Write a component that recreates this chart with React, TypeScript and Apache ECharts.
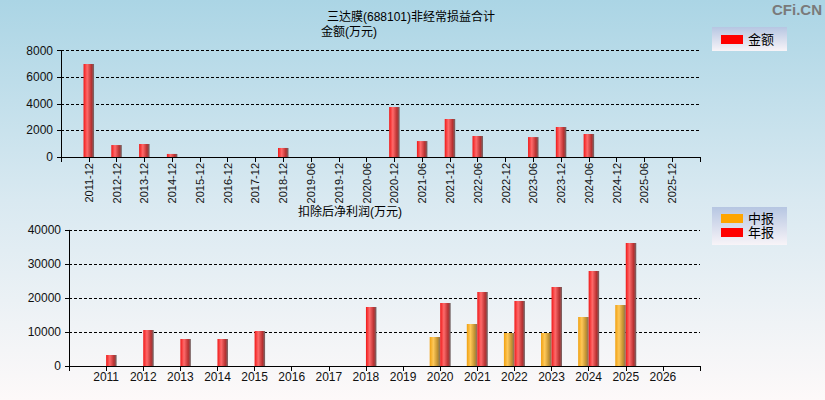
import React, { useRef, useEffect } from "react";
import * as echarts from "echarts";

const title = "三达膜(688101)非经常损益合计";
const topUnit = "金额(万元)";
const bottomUnit = "扣除后净利润(万元)";

const periods = [
  "2011-12", "2012-12", "2013-12", "2014-12", "2015-12", "2016-12", "2017-12",
  "2018-12", "2019-06", "2019-12", "2020-06", "2020-12", "2021-06", "2021-12",
  "2022-06", "2022-12", "2023-06", "2023-12", "2024-06", "2024-12", "2025-06", "2025-12",
];
const amounts = [
  7000, 900, 980, 230, null, null, null, 680, null, null, null, 3760, 1200, 2860,
  1580, null, 1500, 2260, 1730, null, null, null,
];

const years = [
  "2011", "2012", "2013", "2014", "2015", "2016", "2017", "2018",
  "2019", "2020", "2021", "2022", "2023", "2024", "2025", "2026",
];
const midYear = [
  null, null, null, null, null, null, null, null,
  null, 8550, 12380, 9730, 9730, 14450, 17980, null,
];
const annual = [
  3240, 10610, 7960, 7960, 10320, null, null, 17390,
  null, 18570, 21820, 19160, 23290, 28010, 36260, null,
];

const topTicks = [0, 2000, 4000, 6000, 8000];
const bottomTicks = [0, 10000, 20000, 30000, 40000];

const font = "Liberation Sans, Noto Sans CJK SC, sans-serif";

const pad = (arr: any[]) => ["", ...arr, ""];
const padVal = (arr: any[]) => [null, ...arr, null];

const redBar = new echarts.graphic.LinearGradient(0, 0, 1, 0, [
  { offset: 0, color: "#f01818" },
  { offset: 0.35, color: "#ff6a6a" },
  { offset: 0.75, color: "#b83030" },
  { offset: 1, color: "#706868" },
]);
const orangeBar = new echarts.graphic.LinearGradient(0, 0, 1, 0, [
  { offset: 0, color: "#f0a010" },
  { offset: 0.35, color: "#ffc858" },
  { offset: 0.75, color: "#c09030" },
  { offset: 1, color: "#807060" },
]);
const legendBg = new echarts.graphic.LinearGradient(0, 0, 0, 1, [
  { offset: 0, color: "#b6c6e2" },
  { offset: 1, color: "#f8f4f8" },
]);

const App = function () {
  const chart = useRef<HTMLDivElement>(null);
  useEffect(() => {
    document.body.style.margin = "0";
    if (!chart.current) return;
    const myChart = echarts.init(chart.current, null, { renderer: "svg" });
    const xCommon = {
      type: "category",
      boundaryGap: false,
      axisLine: { lineStyle: { color: "#000", width: 1 } },
      axisTick: { show: true, length: 5, interval: 0, lineStyle: { color: "#000" } },
      splitLine: { show: false },
    };
    const yCommon = {
      type: "value",
      min: 0,
      axisLine: { show: true, lineStyle: { color: "#000", width: 1 } },
      axisTick: { show: true, length: 4, lineStyle: { color: "#000" } },
      axisLabel: {
        color: "#111", fontSize: 12, fontFamily: font, margin: 8,
        formatter: (v: number) => String(v),
      },
      splitLine: { lineStyle: { color: "#000", type: [3, 2], width: 1 } },
    };
    const option = {
      animation: false,
      backgroundColor: new echarts.graphic.LinearGradient(0, 0, 0, 1, [
        { offset: 0, color: "#abd5e5" },
        { offset: 0.5, color: "#d9e9f1" },
        { offset: 1, color: "#fdf9f9" },
      ]),
      textStyle: { fontFamily: font },
      graphic: [
        {
          type: "text", x: 411, y: 17,
          style: { text: title, fontSize: 12, fontFamily: font, fill: "#000", align: "center", verticalAlign: "middle" },
        },
        {
          type: "text", x: 349, y: 32,
          style: { text: topUnit, fontSize: 12, fontFamily: font, fill: "#000", align: "center", verticalAlign: "middle" },
        },
        {
          type: "text", x: 350, y: 212,
          style: { text: bottomUnit, fontSize: 12, fontFamily: font, fill: "#000", align: "center", verticalAlign: "middle" },
        },
        {
          type: "text", x: 822, y: 9,
          style: { text: "CFi.CN", fontSize: 15, fontWeight: "bold", fontFamily: font, fill: "#7a7a7a", align: "right", verticalAlign: "middle" },
        },
      ],
      legend: [
        {
          left: 712, top: 27,
          itemWidth: 22, itemHeight: 9, itemGap: 0,
          padding: [6, 13, 5, 9],
          backgroundColor: legendBg,
          textStyle: { fontSize: 13, color: "#000", fontFamily: font },
          data: [{ name: "金额", icon: "rect", itemStyle: { color: "#ff0000" } }],
        },
        {
          left: 712, top: 207, orient: "vertical",
          itemWidth: 22, itemHeight: 9, itemGap: 1,
          padding: [5, 13, 6, 9],
          backgroundColor: legendBg,
          textStyle: { fontSize: 13, color: "#000", fontFamily: font, lineHeight: 13 },
          data: [
            { name: "中报", icon: "rect", itemStyle: { color: "#ffa500" } },
            { name: "年报", icon: "rect", itemStyle: { color: "#ff0000" } },
          ],
        },
      ],
      grid: [
        { left: 61, right: 125, top: 50.7, height: 106.3 },
        { left: 69, right: 125, top: 230.3, height: 135.7 },
      ],
      xAxis: [
        {
          ...xCommon, gridIndex: 0, data: pad(periods),
          axisLabel: { interval: 0, rotate: 90, fontSize: 11, color: "#111", fontFamily: font, margin: 6 },
        },
        {
          ...xCommon, gridIndex: 1, data: pad(years),
          axisLabel: { interval: 0, fontSize: 12, color: "#111", fontFamily: font, margin: 5 },
        },
      ],
      yAxis: [
        { ...yCommon, gridIndex: 0, max: topTicks[topTicks.length - 1], interval: topTicks[1] - topTicks[0] },
        { ...yCommon, gridIndex: 1, max: bottomTicks[bottomTicks.length - 1], interval: bottomTicks[1] - bottomTicks[0] },
      ],
      series: [
        {
          name: "金额", type: "bar", xAxisIndex: 0, yAxisIndex: 0,
          data: padVal(amounts), barWidth: 10.5, itemStyle: { color: redBar },
        },
        {
          name: "中报", type: "bar", xAxisIndex: 1, yAxisIndex: 1,
          data: padVal(midYear), barWidth: 10.5, barGap: "0%", itemStyle: { color: orangeBar },
        },
        {
          name: "年报", type: "bar", xAxisIndex: 1, yAxisIndex: 1,
          data: padVal(annual), barWidth: 10.5, barGap: "0%", itemStyle: { color: redBar },
        },
      ],
    };
    myChart.setOption(option as any);
    return () => {
      myChart.dispose();
    };
  }, []);
  return <div ref={chart} style={{ width: 825, height: 400 }}></div>;
};
export default App;
